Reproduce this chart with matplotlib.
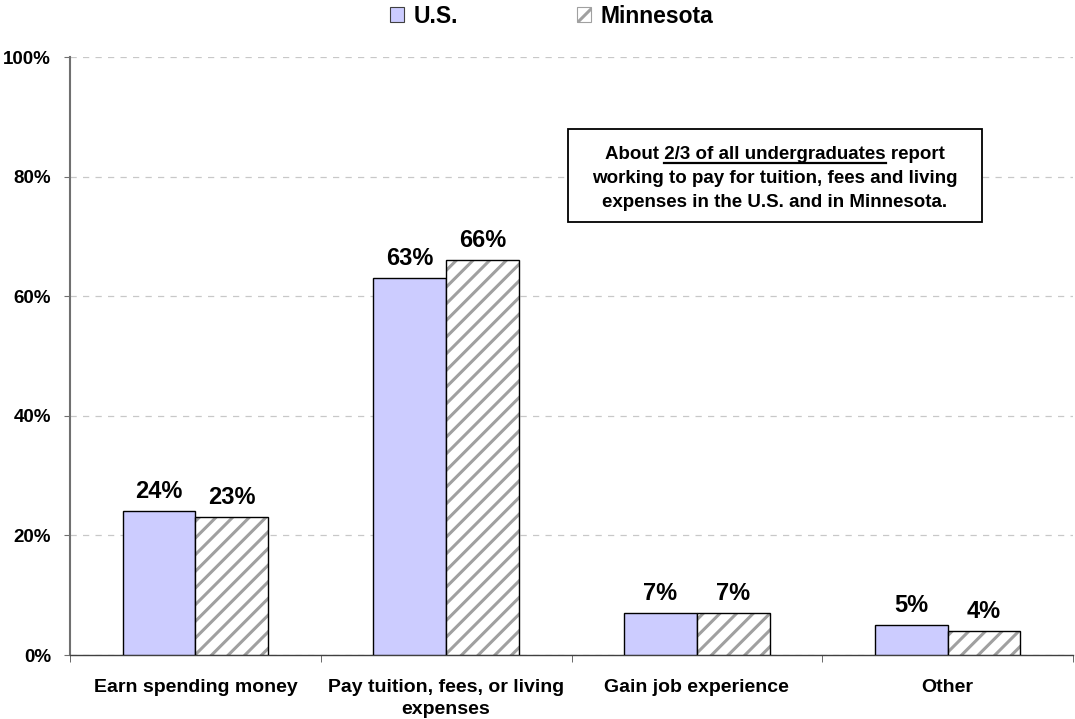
import matplotlib
matplotlib.use("Agg")
import matplotlib.pyplot as plt
import numpy as np
from matplotlib.lines import Line2D
from matplotlib.patches import Rectangle, Patch

categories = ["Earn spending money", "Pay tuition, fees, or living\nexpenses",
              "Gain job experience", "Other"]
us_values = [24, 63, 7, 5]
mn_values = [23, 66, 7, 4]
series_names = ["U.S.", "Minnesota"]
y_ticks = [0, 20, 40, 60, 80, 100]
y_tick_labels = ["0%", "20%", "40%", "60%", "80%", "100%"]
box_lines = ["About 2/3 of all undergraduates report",
             "working to pay for tuition, fees and living",
             "expenses in the U.S. and in Minnesota."]

plt.rcParams['font.family'] = ['Liberation Sans', 'DejaVu Sans']
plt.rcParams['font.weight'] = 'bold'
plt.rcParams['hatch.linewidth'] = 2.2

fig = plt.figure(figsize=(10.75, 7.19), dpi=100)
ax = fig.add_axes([70/1075, 1-655/719, 1003/1075, (655-57)/719])

x = np.arange(len(categories))
w = 0.29
HATCH_GRAY = '#a0a0a0'
b1 = ax.bar(x - w/2, us_values, w, color='#ccccff', edgecolor='black', linewidth=1.0,
            zorder=3)
# hatched fill (gray stripes), then black outline on top
ax.bar(x + w/2, mn_values, w, color='white', edgecolor=HATCH_GRAY, linewidth=0,
       hatch='//', zorder=3)
b2 = ax.bar(x + w/2, mn_values, w, fill=False, edgecolor='black', linewidth=1.0,
            zorder=4)

for rects, vals in ((b1, us_values), (b2, mn_values)):
    for r, v in zip(rects, vals):
        ax.annotate(f"{v}%", (r.get_x() + r.get_width()/2, v), xytext=(0, 6),
                    textcoords='offset points', ha='center', va='bottom',
                    fontsize=17, fontweight='bold')

ax.set_xlim(-0.5, len(categories) - 0.5)
ax.set_ylim(0, 100)
ax.set_yticks(y_ticks)
ax.set_yticklabels(y_tick_labels, fontsize=13.5, fontweight='bold')
ax.yaxis.grid(True, linestyle=(0, (5, 5)), color='#c8c8c8', linewidth=0.9, zorder=0)
ax.tick_params(axis='y', direction='out', length=4.5, color='#707070', pad=9)

ax.set_xticks(x)
ax.set_xticklabels(categories, fontsize=14, fontweight='bold', linespacing=1.4)
ax.tick_params(axis='x', length=0, pad=17)
ax.set_xticks(np.arange(len(categories) + 1) - 0.5, minor=True)
ax.tick_params(axis='x', which='minor', direction='out', length=5, color='#505050')

for s in ('top', 'right'):
    ax.spines[s].set_visible(False)
ax.spines['left'].set_color('#707070')
ax.spines['left'].set_linewidth(1.5)
ax.spines['bottom'].set_color('#404040')
ax.spines['bottom'].set_linewidth(1.0)

h1 = Patch(facecolor='#ccccff', edgecolor='#404040', linewidth=0.8)
h2 = Patch(facecolor='white', edgecolor=HATCH_GRAY, hatch='//', linewidth=0.8)
leg = fig.legend(handles=[h1, h2], labels=series_names, loc='upper center',
                 bbox_to_anchor=(0.513, 1.022), ncol=2, frameon=False,
                 prop={'weight': 'bold', 'size': 16.5}, columnspacing=5.2,
                 handlelength=0.62, handleheight=0.62, handletextpad=0.4)

# Text box
W, H = 1075, 719
bx0, by0, bx1, by1 = 568, 129, 982, 222
fig.add_artist(Rectangle((bx0 / W, 1 - by1 / H), (bx1 - bx0) / W, (by1 - by0) / H,
                         transform=fig.transFigure, facecolor='white',
                         edgecolor='black', linewidth=1.3, zorder=5))
box_cx = (bx0 + bx1) / 2 / W
box_cy = 1 - 178.5 / H
txt = fig.text(box_cx, box_cy, "\n".join(box_lines), ha='center', va='center',
               fontsize=13.5, fontweight='bold', linespacing=1.52, zorder=6)

fig.canvas.draw()
renderer = fig.canvas.get_renderer()

def width_of(s):
    t = fig.text(0, 0, s, fontsize=13.5, fontweight='bold')
    bb = t.get_window_extent(renderer)
    t.remove()
    return bb.width

line1 = box_lines[0]
full_w = width_of(line1)
pre_w = width_of("About ")
und_w = width_of("2/3 of all undergraduates")
tb = txt.get_window_extent(renderer)
cx = (tb.x0 + tb.x1) / 2
line1_left = cx - full_w / 2
h_line = tb.height / 3
y_under = tb.y1 - h_line * 0.80
x0 = line1_left + pre_w
x1 = x0 + und_w
fig.add_artist(Line2D([x0 / fig.bbox.width, x1 / fig.bbox.width],
                      [y_under / fig.bbox.height, y_under / fig.bbox.height],
                      transform=fig.transFigure, color='black', linewidth=1.6, zorder=7))

fig.savefig("out.png", dpi=100)
